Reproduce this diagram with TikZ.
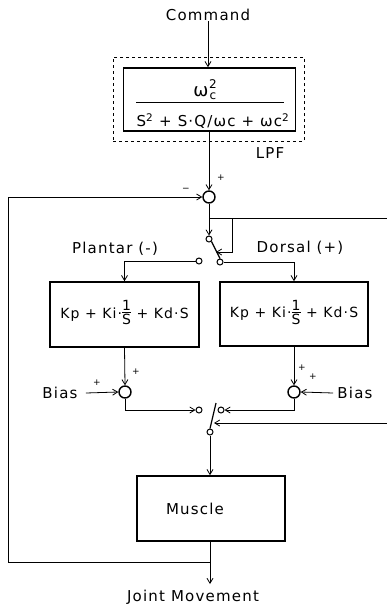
\documentclass[tikz,border=0pt]{standalone}
\usepackage{fontspec}
\setmainfont{DejaVu Sans}[LetterSpace=8]
\usetikzlibrary{arrows.meta,calc}
\newcommand{\fr}[2]{\begin{tabular}{@{}c@{}}#1\\[-3pt]\hline\rule{0pt}{12pt}#2\end{tabular}}
\begin{document}
\begin{tikzpicture}[x=1pt,y=-1pt,
  line width=0.8pt,
  arr/.style={-{Straight Barb[length=5pt,width=6pt]}},
  box/.style={draw,line width=1.6pt,inner sep=0pt},
  sumj/.style={draw,circle,line width=1.4pt,minimum size=12pt,inner sep=0pt},
  contact/.style={draw,circle,line width=1pt,minimum size=6pt,inner sep=0pt},
  lbl/.style={inner sep=0pt,font=\fontsize{15}{17}\selectfont},
  pidtxt/.style={font=\fontsize{14}{16}\selectfont},
  sgn/.style={inner sep=0pt,font=\fontsize{9}{9}\selectfont},
  scr/.style={inner sep=0pt,font=\fontsize{12}{12}\selectfont}]
\useasboundingbox (0,0) rectangle (387,608);
% top
\node[lbl] (cmd) at (208,15) {Command};
\node[draw,dashed,line width=1pt,minimum width=191pt,minimum height=84pt,inner sep=0pt] (lpfd) at (208.5,99) {};
\node[box,minimum width=172pt,minimum height=63pt] (tf) at (209.5,99.5) {};
\node[inner sep=0pt,font=\fontsize{18}{18}\selectfont] (num) at (201,92) {ω};
\node[scr] (num2) at (213,84) {2};
\node[scr] (numc) at (213,96) {c};
\node[lbl] (den) at (213,121) {S\textsuperscript{2} + S·Q/ωc + ωc\textsuperscript{2}};
\draw[line width=1pt] (136,102) -- (284,102);
\node[lbl] (lpf) at (270,153) {LPF};
\draw[arr] (cmd) -- (cmd |- tf.north);
% summing junction 1
\node[sumj] (sum1) at (209,197) {};
\node[sgn] at (221,178) {+};
\node[sgn] at (186,190) {−};
\draw[arr] (tf.south -| sum1) -- (sum1.north);
% switch 1
\coordinate (j1) at (209,218);
\node[contact] (sw1c) at (209,239) {};
\node[contact] (sw1l) at (199,261) {};
\node[contact] (sw1r) at (220,262) {};
\coordinate (ctl1) at (387,218);
\coordinate (bl1) at (216,252);
\draw (sum1.south) -- (j1);
\draw[arr] (j1) -- (sw1c.north);
\draw (j1) -- (ctl1);
\draw[arr] (232,218) -- (232,252) -- (bl1);
\draw[line width=1.2pt] (sw1c.south east) -- (sw1r.north);
\node[lbl] (plantar) at (115,249) {Plantar (-)};
\node[lbl] (dorsal) at (300,248) {Dorsal (+)};
% PID boxes
\node[box,pidtxt,minimum width=149pt,minimum height=65pt] (pidL) at (124.5,314.5) {Kp + Ki·\fr{1}{S} + Kd·S};
\node[box,pidtxt,minimum width=148pt,minimum height=64pt] (pidR) at (294,314) {Kp + Ki·\fr{1}{S} + Kd·S};
\draw[arr] (sw1l.west) -| (pidL.north);
\draw[arr] (sw1r.east) -| (pidR.north);
% summing junctions 2
\node[sumj] (sumL) at (125,392) {};
\node[sumj] (sumR) at (294,392) {};
\draw[arr] (pidL.south) -- (sumL.north);
\draw[arr] (pidR.south) -- (sumR.north);
\node[lbl] (biasL) at (60,393) {Bias};
\node[lbl] (biasR) at (355,393) {Bias};
\draw[arr] (biasL.east) ++(8,0) -- (sumL.west);
\draw[arr] (biasR.west) ++(-4,0) -- (sumR.east);
\node[sgn] at (97,383) {+};
\node[sgn] at (136,372) {+};
\node[sgn] at (302,368) {+};
\node[sgn] at (313,377) {+};
% switch 2
\node[contact] (sw2l) at (199,410) {};
\node[contact] (sw2r) at (221,410) {};
\node[contact] (sw2c) at (210,432) {};
\coordinate (bl2) at (216,403);
\coordinate (ctl2) at (387,423);
\coordinate (bm2) at (214,423);
\draw[arr] (sumL.south) |- (sw2l.west);
\draw[arr] (sumR.south) |- (sw2r.east);
\draw[line width=1.2pt] (sw2c.north) -- (bl2);
\draw[arr] (ctl2) -- (bm2);
% muscle
\node[box,minimum width=148pt,minimum height=65pt] (mus) at (211,508.5) {};
\node[lbl] (mustxt) at (195,509) {Muscle};
\draw[arr] (sw2c.south) -- (sw2c.south |- mus.north);
\coordinate (out) at (210,584);
\coordinate (fb) at (210,562);
\draw[arr] (mus.south -| out) -- (out);
\draw[arr] (fb) -- (8,562) -- (8,197) -- (sum1.west);
\node[lbl] (jm) at (193,597) {Joint Movement};
\end{tikzpicture}
\end{document}
